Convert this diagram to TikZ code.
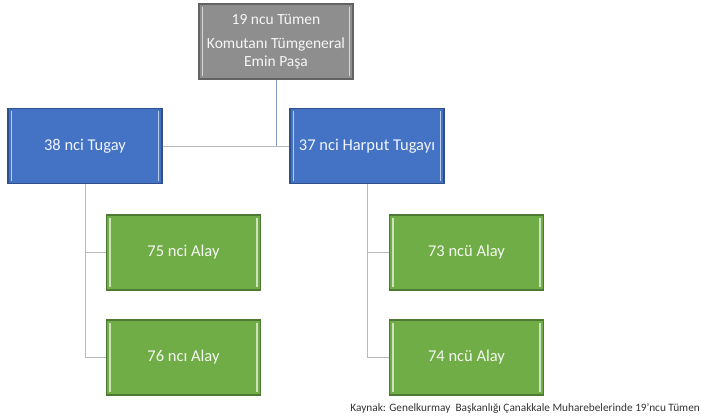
\documentclass[tikz,border=0pt]{standalone}
\usepackage{fontspec}
\setmainfont{Carlito}
\usetikzlibrary{positioning,calc}

\definecolor{boxgray}{HTML}{8E8E8E}
\definecolor{boxblue}{HTML}{4472C4}
\definecolor{boxgreen}{HTML}{70AD47}
\definecolor{linegray}{HTML}{B4B9BE}
\definecolor{lineblue}{HTML}{7F9CC0}

\tikzset{
    unit/.style={rectangle, minimum width=154pt, minimum height=75pt, inner sep=0pt,
        draw=#1!70!black, line width=1.2pt, fill=#1, text=white!92!#1, font=\fontsize{16.5}{19}\selectfont,
        align=center,
        path picture={
            \draw[#1!35!white, line width=1.6pt]
                ([xshift=3.5pt,yshift=-3pt]path picture bounding box.north west) --
                ([xshift=3.5pt,yshift=3pt]path picture bounding box.south west);
            \draw[#1!35!white, line width=1.6pt]
                ([xshift=-3.5pt,yshift=-3pt]path picture bounding box.north east) --
                ([xshift=-3.5pt,yshift=3pt]path picture bounding box.south east);
        }},
    link/.style={draw=linegray, line width=1pt}
}

\begin{document}
\begin{tikzpicture}[x=1pt,y=-1pt]
    \useasboundingbox (0,0) rectangle (701,417);

    \node[unit=boxgray, font=\fontsize{15.5}{18}\selectfont] (div) at (276,41.5)
        {19 ncu Tümen\\[6pt]Komutanı Tümgeneral\\Emin Paşa};

    \node[unit=boxblue] (b38) at (85,146) {38 nci Tugay};
    \node[unit=boxblue] (b37) at (367,146) {37 nci Harput Tugayı};

    \node[unit=boxgreen] (r75) at (183.5,252.5) {75 nci Alay};
    \node[unit=boxgreen] (r76) at (183.5,357.5) {76 ncı Alay};
    \node[unit=boxgreen] (r73) at (466.5,252.5) {73 ncü Alay};
    \node[unit=boxgreen] (r74) at (466.5,357.5) {74 ncü Alay};

    \coordinate (mid) at (div.south |- b38.east);
    \draw[draw=lineblue, line width=1pt] (div.south) -- (mid);
    \draw[link] (b38.east) -- (b37.west);

    \foreach \b/\r in {b38/r75, b38/r76, b37/r73, b37/r74} {
        \draw[link] (\b.south) |- (\r.west);
    }

    \node[anchor=east, inner sep=0pt, font=\fontsize{11.3}{12}\selectfont, text=black!80]
        (src) at (700,408) {Kaynak: Genelkurmay \ Başkanlığı Çanakkale Muharebelerinde 19’ncu Tümen};
\end{tikzpicture}
\end{document}
